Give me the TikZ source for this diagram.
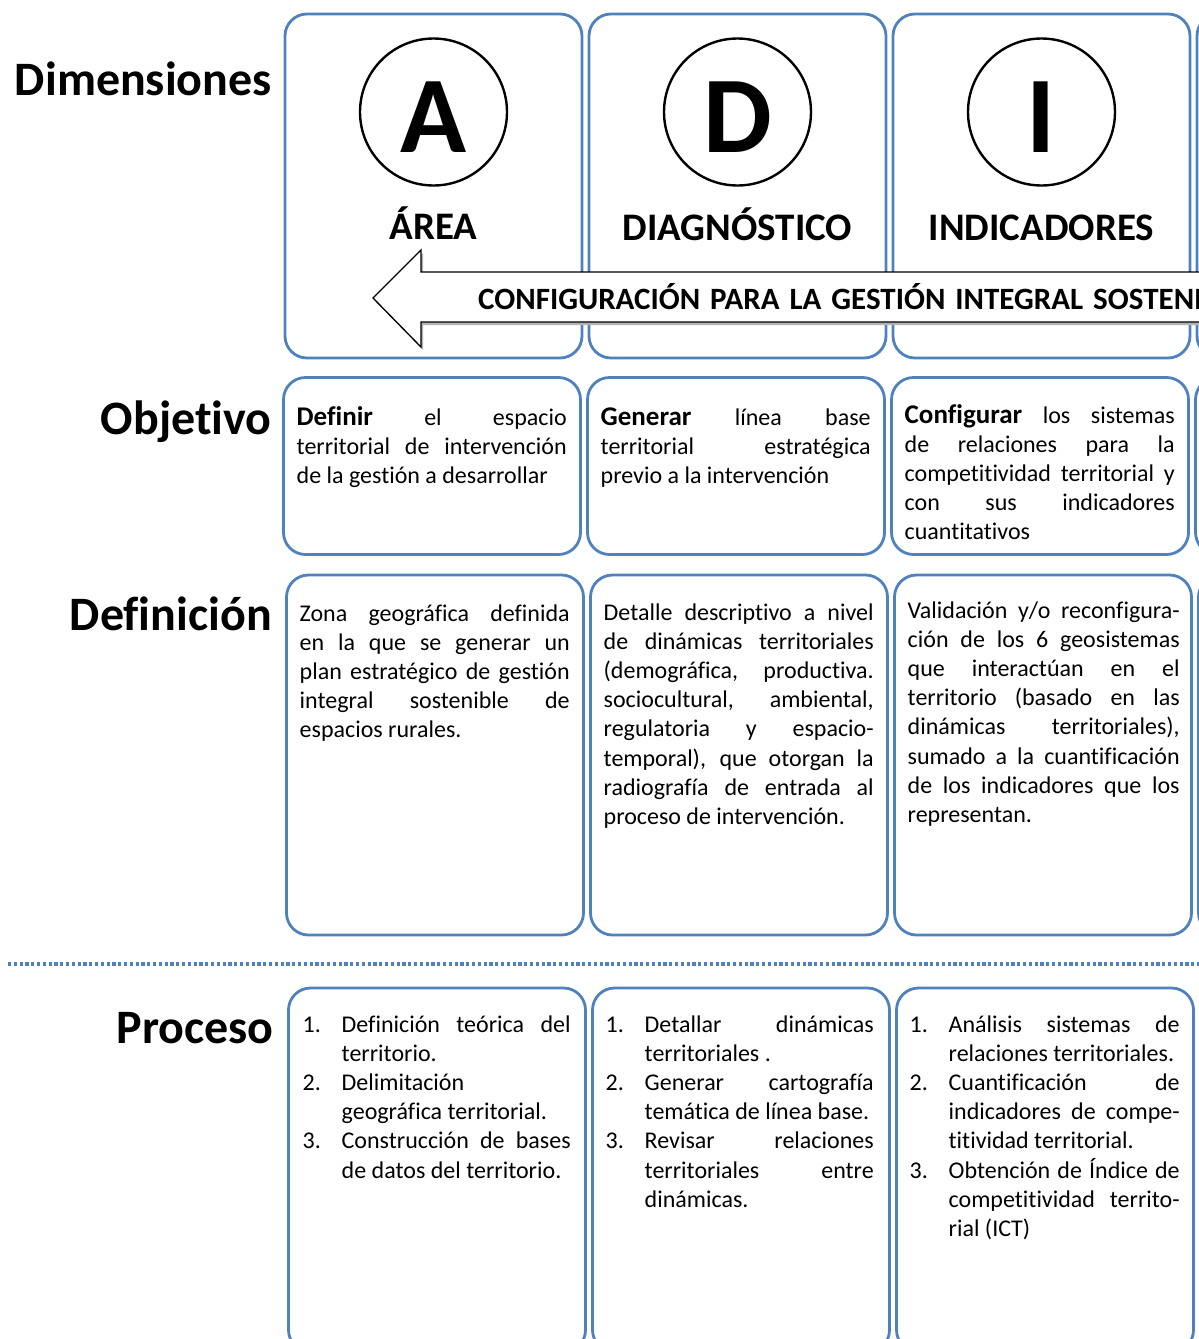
\documentclass[tikz,border=0pt]{standalone}
\usepackage{fontspec}
\setmainfont{Carlito}[Ligatures={TeX,NoCommon}]
\usetikzlibrary{positioning}
\definecolor{cajaazul}{RGB}{79,129,189}
\tolerance=10000
\hbadness=10000
\newcommand{\paso}[2]{\hangindent=39pt\hangafter=1\noindent\makebox[39pt][l]{#1}#2\par}
\newcommand{\lemafont}{\fontsize{31}{32}\selectfont\bfseries\spaceskip=10pt plus 0pt\relax}
\newcommand{\verbo}[1]{{\fontsize{27}{29.2}\selectfont\bfseries #1}}

\begin{document}
\begin{tikzpicture}[x=1pt, y=-1pt,
    node distance=7pt,
    caja/.style={draw=cajaazul, line width=2.8pt, rounded corners=22pt, inner sep=0pt, outer sep=0pt, minimum width=297pt},
    circulo/.style={circle, draw, line width=2.4pt, minimum size=147pt, inner sep=0pt, outer sep=0pt, text height=80pt, font=\fontsize{109}{109}\selectfont\bfseries},
    dimtxt/.style={anchor=base, inner sep=0pt, font=\fontsize{39}{40}\selectfont\bfseries},
    fila/.style={anchor=base east, inner sep=0pt, font=\fontsize{48}{50}\selectfont\bfseries},
    txt/.style={anchor=base west, inner sep=0pt, text width=270pt, align=justify, font=\fontsize{24}{29.2}\selectfont},
    lista/.style={txt, text width=268pt},
    flecha/.style={draw, line width=1.3pt, fill=white, line join=miter, preaction={fill=black!30, transform canvas={shift={(2pt,-3pt)}}}},
    lematxt/.style={anchor=base west, inner sep=0pt, font=\lemafont},
    separador/.style={cajaazul, line width=3.2pt, dash pattern=on 3.2pt off 2.6pt}
  ]
  \useasboundingbox (0,0) rectangle (1199,1339);
  \clip (0,0) rectangle (1199,1339);

  % etiquetas de filas
  \node[fila] (lblDim) at (272,95) {Dimensiones};
  \node[fila] (lblObj) at (272,434) {Objetivo};
  \node[fila] (lblDef) at (272,630) {Definición};
  \node[fila] (lblPro) at (274,1043) {Proceso};

  % dimensiones
  \node[caja, minimum height=344pt] (dimA) at (433.5,186) {};
  \node[caja, minimum height=344pt, right=of dimA] (dimD) {};
  \node[caja, minimum height=344pt, right=of dimD] (dimI) {};
  \node[caja, minimum height=344pt, right=of dimI] (dimX) {};

  \node[circulo, below=24.5pt of dimA.north] (circA) {A};
  \node[circulo, below=24.5pt of dimD.north] (circD) {D};
  \node[circulo, below=24.5pt of dimI.north] (circI) {I};

  \node[dimtxt] (txtA) at ([yshift=-225pt]dimA.north) {ÁREA};
  \node[dimtxt] (txtD) at ([yshift=-226pt]dimD.north) {DIAGNÓSTICO};
  \node[dimtxt] (txtI) at ([yshift=-226pt]dimI.north) {INDICADORES};

  \draw[flecha] (373,298) -- (421,250) -- (421,272) -- (1240,272) -- (1240,322) -- (421,322) -- (421,347) -- cycle;
  \node[lematxt] (lema) at (478,309) {CONFIGURACIÓN PARA LA GESTIÓN INTEGRAL SOSTENIBLE};

  % objetivo
  \node[caja, minimum height=177pt] (objA) at (432,466) {};
  \node[caja, minimum height=177pt, right=of objA] (objD) {};
  \node[caja, minimum height=177pt, right=of objD] (objI) {};
  \node[caja, minimum height=177pt, right=of objI] (objX) {};

  \node[txt] (objAt) at ([shift={(13,47.5)}]objA.north west) {\verbo{Definir} el espacio\linebreak territorial de intervención\linebreak de la gestión a desarrollar};
  \node[txt] (objDt) at ([shift={(13,47.5)}]objD.north west) {\verbo{Generar} línea base\linebreak territorial estratégica\linebreak previo a la intervención};
  \node[txt] (objIt) at ([shift={(13,45.5)}]objI.north west) {\verbo{Configurar} los sistemas\linebreak de relaciones para la\linebreak competitividad territorial y\linebreak con sus indicadores\linebreak cuantitativos};

  % definicion
  \node[caja, minimum height=360pt] (defA) at (435,755) {};
  \node[caja, minimum height=360pt, right=of defA] (defD) {};
  \node[caja, minimum height=360pt, right=of defD] (defI) {};
  \node[caja, minimum height=360pt, right=of defI] (defX) {};

  \node[txt] (defAt) at ([shift={(13,46)}]defA.north west) {Zona geográfica definida\linebreak en la que se generar un\linebreak plan estratégico de gestión\linebreak integral sostenible de\linebreak espacios rurales.};
  \node[txt] (defDt) at ([shift={(13,45)}]defD.north west) {Detalle descriptivo a nivel\linebreak de dinámicas territoriales\linebreak (demográfica, productiva.\linebreak sociocultural, ambiental,\linebreak regulatoria y espacio-\linebreak temporal), que otorgan la\linebreak radiografía de entrada al\linebreak proceso de intervención.};
  \node[txt, text width=272pt] (defIt) at ([shift={(13,43)}]defI.north west) {Validación y/o reconfigura-\linebreak ción de los 6 geosistemas\linebreak que interactúan en el\linebreak territorio (basado en las\linebreak dinámicas territoriales),\linebreak sumado a la cuantificación\linebreak de los indicadores que los\linebreak representan.};

  \draw[separador] (8,964) -- (1199,964);

  % proceso
  \node[caja, minimum height=364pt] (proA) at (437,1170) {};
  \node[caja, minimum height=364pt, right=of proA] (proD) {};
  \node[caja, minimum height=364pt, right=of proD] (proI) {};
  \node[caja, minimum height=364pt, right=of proI] (proX) {};

  \node[lista] (proAt) at ([shift={(14,44)}]proA.north west) {\paso{1.}{Definición teórica del\linebreak territorio.}\paso{2.}{Delimitación\linebreak geográfica territorial.}\paso{3.}{Construcción de bases\linebreak de datos del territorio.}};
  \node[lista] (proDt) at ([shift={(13,44)}]proD.north west) {\paso{1.}{Detallar dinámicas\linebreak territoriales .}\paso{2.}{Generar cartografía\linebreak temática de línea base.}\paso{3.}{Revisar relaciones\linebreak territoriales entre\linebreak dinámicas.}};
  \node[lista, text width=270pt] (proIt) at ([shift={(13,44)}]proI.north west) {\paso{1.}{Análisis sistemas de\linebreak relaciones territoriales.}\paso{2.}{Cuantificación de\linebreak indicadores de compe-\linebreak titividad territorial.}\paso{3.}{Obtención de Índice de\linebreak competitividad territo-\linebreak rial (ICT)}};
\end{tikzpicture}
\end{document}
